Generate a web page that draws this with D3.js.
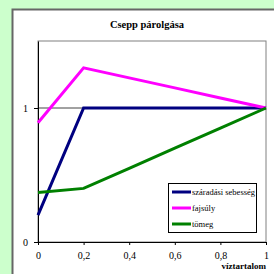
<!DOCTYPE html>
<html>
<head>
<meta charset="utf-8">
<script src="https://cdn.jsdelivr.net/npm/d3@7"></script>
<style>
  body { margin: 0; background: #ccffcc; }
  svg { display: block; }
  text { font-family: "Liberation Serif", "Times New Roman", serif; fill: #000; }
</style>
</head>
<body>
<svg width="274" height="274"></svg>
<script>
var xValues = [0, 0.2, 0.4, 0.6, 0.8, 1];
var seriesNames = ["száradási sebesség", "fajsúly", "tömeg"];
var seriesColors = ["#000080", "#ff00ff", "#008000"];
var szaradas = [0.2, 1, 1, 1, 1, 1];
var fajsuly = [0.89, 1.3, 1.225, 1.15, 1.075, 1];
var tomeg = [0.37, 0.4, 0.55, 0.7, 0.85, 1];
var xTicks = [0, 0.2, 0.4, 0.6, 0.8, 1];
var yTicks = [0, 1];

var svg = d3.select("svg");

// chart area
svg.append("rect")
  .attr("x", 12.5).attr("y", 9.5)
  .attr("width", 300).attr("height", 300)
  .attr("fill", "#fff")
  .attr("stroke", "#666").attr("stroke-width", 2);

var x = d3.scaleLinear().domain([0, 1]).range([38, 266]);
var y = d3.scaleLinear().domain([0, 1.5]).range([242, 41]);

svg.append("text")
  .attr("x", 147).attr("y", 28)
  .attr("text-anchor", "middle")
  .attr("font-size", 10.5).attr("font-weight", "bold")
  .text("Csepp párolgása");

// plot area border
svg.append("rect")
  .attr("x", x(0)).attr("y", y(1.5))
  .attr("width", x(1) - x(0)).attr("height", y(0) - y(1.5))
  .attr("fill", "none").attr("stroke", "#808080").attr("stroke-width", 1);

// gridline at 1
svg.append("line")
  .attr("x1", x(0)).attr("x2", x(1))
  .attr("y1", y(1)).attr("y2", y(1))
  .attr("stroke", "#444").attr("stroke-width", 1);

var xAxis = svg.append("g")
  .attr("transform", "translate(0," + y(0) + ")")
  .call(d3.axisBottom(x).tickValues(xTicks).tickSize(3).tickPadding(7)
    .tickFormat(function(d) { return String(d).replace(".", ","); }));
xAxis.select(".domain").attr("stroke", "#000");
xAxis.selectAll("text").attr("font-size", 10).attr("font-family", "Liberation Serif");

var yAxis = svg.append("g")
  .attr("transform", "translate(" + x(0) + ",0)")
  .call(d3.axisLeft(y).tickValues(yTicks).tickSize(4).tickPadding(6).tickSizeOuter(0)
    .tickFormat(d3.format("d")));
yAxis.select(".domain").attr("stroke", "#000");
yAxis.selectAll("text").attr("font-size", 10).attr("font-family", "Liberation Serif");

svg.append("text")
  .attr("x", 266).attr("y", 269)
  .attr("text-anchor", "end")
  .attr("font-size", 9).attr("font-weight", "bold")
  .text("víztartalom");

var line = d3.line()
  .x(function(d, i) { return x(xValues[i]); })
  .y(function(d) { return y(d); });

[szaradas, fajsuly, tomeg].forEach(function(s, i) {
  svg.append("path")
    .attr("d", line(s))
    .attr("fill", "none")
    .attr("stroke", seriesColors[i])
    .attr("stroke-width", 3)
    .attr("stroke-linejoin", "miter");
});

// legend
var lg = svg.append("g").attr("transform", "translate(168,183)");
lg.append("rect")
  .attr("x", 0.5).attr("y", 0.5).attr("width", 88).attr("height", 49)
  .attr("fill", "#fff").attr("stroke", "#000").attr("stroke-width", 1);
seriesNames.forEach(function(n, i) {
  var ry = 9 + i * 16;
  lg.append("line")
    .attr("x1", 4).attr("x2", 23).attr("y1", ry).attr("y2", ry)
    .attr("stroke", seriesColors[i]).attr("stroke-width", 3);
  lg.append("text")
    .attr("x", 24).attr("y", ry + 3)
    .attr("font-size", 8.5)
    .text(n);
});
</script>
</body>
</html>
